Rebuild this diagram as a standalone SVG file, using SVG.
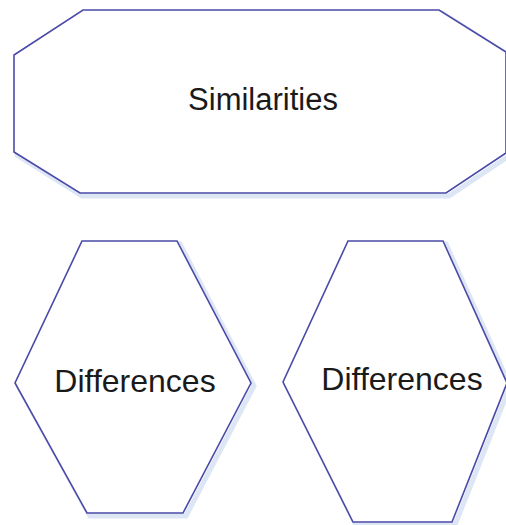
<svg xmlns="http://www.w3.org/2000/svg" width="506" height="525" viewBox="0 0 506 525">
<defs>
<style>
.shape{fill:#ffffff;stroke:#4a4aa8;stroke-width:1.6;stroke-linejoin:miter}
.shadow{fill:none;stroke:#dde6f5;stroke-width:5}
.label{font-family:"Liberation Sans",Arial,sans-serif;fill:#1a1a1a;text-anchor:middle}
</style>
</defs>
<rect width="506" height="525" fill="#ffffff"/>
<g id="connectors"></g>
<g id="similarities">
<polygon class="shadow" points="85,13 442,13 509,56 509,156 449,196 82,196 17,155 17,58"/>
<polygon class="shape" points="83,10 439,10 506,52 506,153 446,193 80,193 14,152 14,55"/>
<text class="label" x="263" y="110" font-size="31">Similarities</text>
</g>
<g id="differences-left">
<polygon class="shadow" points="85,244 180,244 254,386 186,516 90,516 18,386"/>
<polygon class="shape" points="82,241 177,241 251,383 183,513 87,513 15,383"/>
<text class="label" x="135" y="392" font-size="32">Differences</text>
</g>
<g id="differences-right">
<polygon class="shadow" points="351,244 446,244 510,386 455,525 356,525 286,385"/>
<polygon class="shape" points="348,241 443,241 507,383 452,522 353,522 283,382"/>
<text class="label" x="402" y="390" font-size="32">Differences</text>
</g>
</svg>
